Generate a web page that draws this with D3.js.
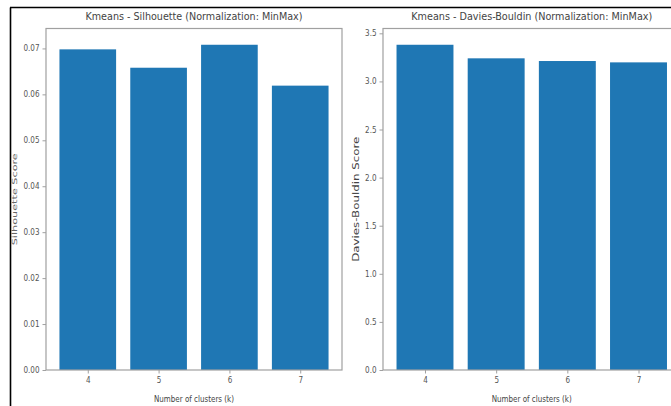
<!DOCTYPE html>
<html>
<head>
<meta charset="utf-8">
<script src="https://cdn.jsdelivr.net/npm/d3@7"></script>
<style>
  body { margin: 0; background: #fff; }
  svg text { font-family: "DejaVu Sans", sans-serif; font-stretch: condensed; fill: #444; }
</style>
</head>
<body>
<div id="chart"></div>
<script>
var svgWidth = 671;
var svgHeight = 406;

// data
var clusters = [4, 5, 6, 7];
var silhouette = [0.0698, 0.0658, 0.0708, 0.0619];
var daviesBouldin = [3.381, 3.240, 3.212, 3.198];
var silTicks = [0, 0.01, 0.02, 0.03, 0.04, 0.05, 0.06, 0.07];
var dbTicks = [0, 0.5, 1.0, 1.5, 2.0, 2.5, 3.0, 3.5];

var svg = d3.select("#chart")
  .append("svg")
  .attr("width", svgWidth)
  .attr("height", svgHeight);

var barColor = "#1f77b4";
var spineColor = "#a0a0a0";

function drawPanel(opts) {
  var g = svg.append("g")
    .attr("transform", `translate(${opts.left}, ${opts.top})`);
  var width = opts.width;
  var height = opts.height;

  var xScale = d3.scaleLinear()
    .domain([3.41, 7.59])
    .range([0, width]);
  var yScale = d3.scaleLinear()
    .domain([0, d3.max(opts.values) * 1.05])
    .range([height, 0]);

  g.selectAll("rect.bar")
    .data(opts.values)
    .enter()
    .append("rect")
    .attr("class", "bar")
    .attr("x", (d, i) => xScale(clusters[i] - 0.4))
    .attr("width", (d, i) => xScale(clusters[i] + 0.4) - xScale(clusters[i] - 0.4))
    .attr("y", d => yScale(d))
    .attr("height", d => height - yScale(d))
    .attr("fill", barColor);

  var xAxis = g.append("g")
    .attr("transform", `translate(0, ${height})`)
    .call(d3.axisBottom(xScale).tickValues(clusters).tickSize(3.5).tickPadding(4).tickFormat(d3.format("d")));
  var yAxis = g.append("g")
    .call(d3.axisLeft(yScale).tickValues(opts.ticks).tickSize(3.5).tickPadding(3).tickFormat(d3.format(opts.fmt)));

  [xAxis, yAxis].forEach(function(ax) {
    ax.select(".domain").remove();
    ax.selectAll(".tick line").attr("stroke", spineColor).attr("stroke-width", 1);
    ax.selectAll(".tick text").attr("font-size", 8).style("fill", "#555");
  });

  g.append("rect")
    .attr("x", 0)
    .attr("y", 0)
    .attr("width", width)
    .attr("height", height)
    .attr("fill", "none")
    .attr("stroke", spineColor)
    .attr("stroke-width", 1.2);

  g.append("text")
    .attr("x", width / 2)
    .attr("y", -9)
    .attr("text-anchor", "middle")
    .attr("font-size", 11)
    .attr("textLength", opts.titleLen)
    .attr("lengthAdjust", "spacingAndGlyphs")
    .text(opts.title);

  g.append("text")
    .attr("x", width / 2)
    .attr("y", height + 32)
    .attr("text-anchor", "middle")
    .attr("font-size", 8.5)
    .attr("textLength", 80)
    .attr("lengthAdjust", "spacingAndGlyphs")
    .text("Number of clusters (k)");

  g.append("text")
    .attr("transform", `translate(${opts.ylabelX}, ${height / 2}) rotate(-90)`)
    .attr("text-anchor", "middle")
    .attr("font-size", opts.ylabelSize)
    .attr("textLength", opts.ylabelLen)
    .attr("lengthAdjust", "spacingAndGlyphs")
    .style("fill", opts.ylabelColor)
    .text(opts.ylabel);
}

drawPanel({
  left: 46, top: 28.5, width: 296, height: 341.5,
  values: silhouette, ticks: silTicks, fmt: ".2f",
  title: "Kmeans - Silhouette (Normalization: MinMax)", titleLen: 217,
  ylabel: "Silhouette Score", ylabelLen: 92, ylabelX: -29, ylabelSize: 7, ylabelColor: "#666"
});

drawPanel({
  left: 383, top: 28.5, width: 297.5, height: 341.5,
  values: daviesBouldin, ticks: dbTicks, fmt: ".1f",
  title: "Kmeans - Davies-Bouldin (Normalization: MinMax)", titleLen: 241,
  ylabel: "Davies-Bouldin Score", ylabelLen: 125, ylabelX: -24, ylabelSize: 8.5, ylabelColor: "#444"
});

// frame of the screenshot (left and top edges)
svg.append("line")
  .attr("x1", 10.5).attr("x2", 10.5).attr("y1", 7.5).attr("y2", svgHeight)
  .attr("stroke", "#000").attr("stroke-width", 1.6);
svg.append("line")
  .attr("x1", 10).attr("x2", svgWidth).attr("y1", 7.5).attr("y2", 7.5)
  .attr("stroke", "#000").attr("stroke-width", 1.6);
</script>
</body>
</html>
